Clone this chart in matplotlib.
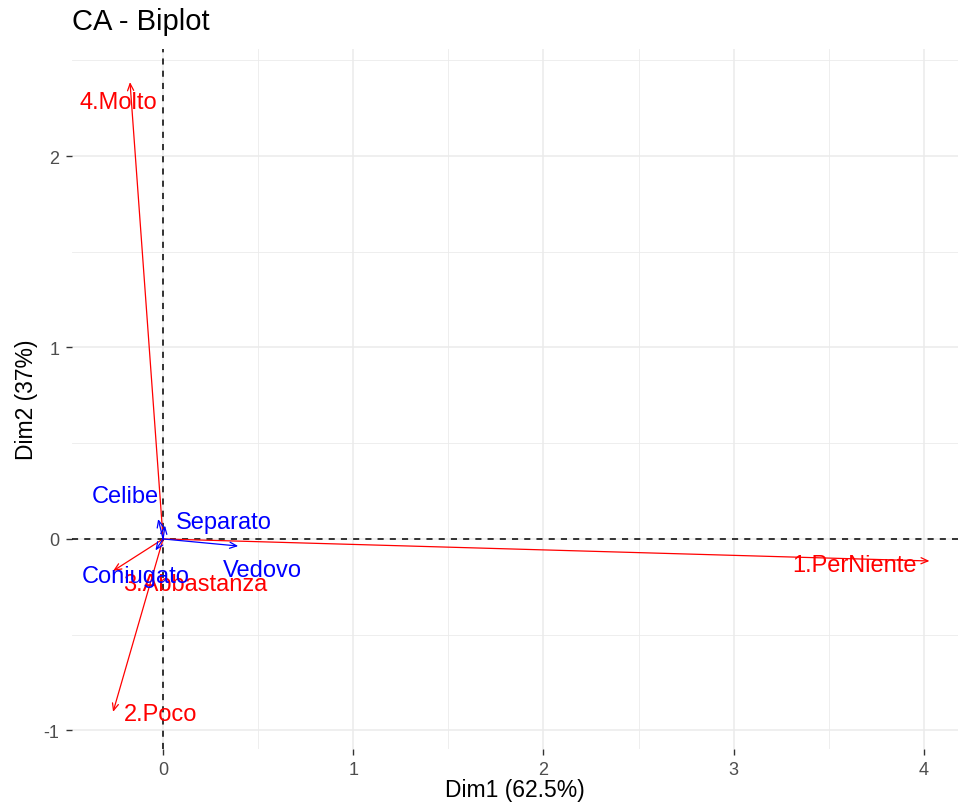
import matplotlib
matplotlib.use("Agg")
import matplotlib.pyplot as plt
from matplotlib.ticker import MultipleLocator

plt.rcParams["font.family"] = ["Liberation Sans", "DejaVu Sans"]
plt.rcParams["axes.unicode_minus"] = False

# Column categories (red) and row categories (blue) of the CA
col_labels = ["1.PerNiente", "2.Poco", "3.Abbastanza", "4.Molto"]
col_dim1 = [4.03, -0.263, -0.263, -0.174]
col_dim2 = [-0.115, -0.903, -0.167, 2.386]

row_labels = ["Celibe", "Coniugato", "Separato", "Vedovo"]
row_dim1 = [-0.026, -0.040, 0.010, 0.395]
row_dim2 = [0.104, -0.060, 0.070, -0.037]

x_title = "Dim1 (62.5%)"
y_title = "Dim2 (37%)"
title = "CA - Biplot"

# label offsets in pixels (display units)
col_offsets = {"1.PerNiente": (-75, -4), "2.Poco": (47, -2),
               "3.Abbastanza": (82, -13), "4.Molto": (-12, -20)}
row_offsets = {"Celibe": (-33, 23), "Coniugato": (-20, -26),
               "Separato": (59, 4), "Vedovo": (24, -24)}

fig = plt.figure(figsize=(9.59, 8.04), dpi=100)
ax = fig.add_axes([72 / 959, 1 - 750 / 804, (958 - 72) / 959, 700 / 804])

ax.set_xlim(-0.479, 4.18)
ax.set_ylim(-1.097, 2.559)

ax.xaxis.set_major_locator(MultipleLocator(1))
ax.xaxis.set_minor_locator(MultipleLocator(0.5))
ax.yaxis.set_major_locator(MultipleLocator(1))
ax.yaxis.set_minor_locator(MultipleLocator(0.5))
ax.grid(which="major", color="#EBEBEB", linewidth=1.1)
ax.grid(which="minor", color="#EBEBEB", linewidth=0.6)
ax.set_axisbelow(True)
for s in ax.spines.values():
    s.set_visible(False)
ax.tick_params(which="major", length=4, width=1, color="#333333",
               labelcolor="#4D4D4D", labelsize=13, pad=5)
ax.tick_params(which="minor", length=0)

ax.axhline(0, color="black", linestyle=(0, (4, 4)), linewidth=1.1, zorder=1)
ax.axvline(0, color="black", linestyle=(0, (4, 4)), linewidth=1.1, zorder=1)


def draw(labels, xs, ys, color, offsets):
    for lab, x, y in zip(labels, xs, ys):
        ax.annotate("", xy=(x, y), xytext=(0, 0),
                    arrowprops=dict(arrowstyle="->,head_length=0.5,head_width=0.22",
                                    color=color, lw=0.9,
                                    shrinkA=0, shrinkB=0), zorder=3)
        dx, dy = offsets[lab]
        ax.annotate(lab, xy=(x, y), xytext=(dx, dy), textcoords="offset pixels",
                    ha="center", va="center", color=color, fontsize=17, zorder=4)


draw(col_labels, col_dim1, col_dim2, "#FF0000", col_offsets)
draw(row_labels, row_dim1, row_dim2, "#0000FF", row_offsets)

ax.set_xlabel(x_title, fontsize=16.5, color="black", labelpad=0)
ax.set_ylabel(y_title, fontsize=16.5, color="black", labelpad=4)
fig.text(72 / 959, 1 - 22 / 804, title, fontsize=21, ha="left", va="center")

fig.savefig("out.png", dpi=100)
